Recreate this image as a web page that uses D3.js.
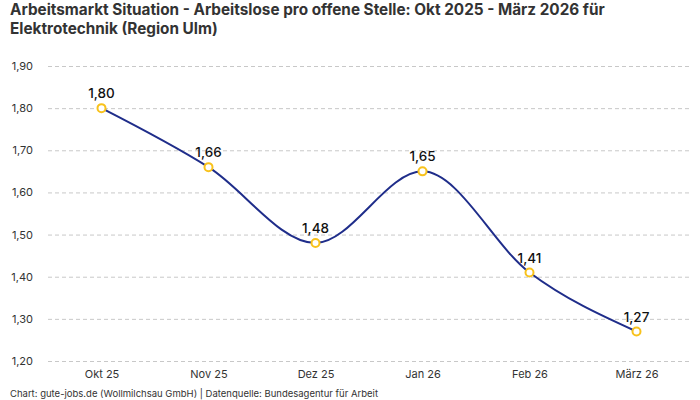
<!DOCTYPE html>
<html lang="de">
<head>
<meta charset="UTF-8">
<title>Arbeitsmarkt Situation</title>
<script src="https://d3js.org/d3.v7.min.js"></script>
<style>
  body { margin: 0; background: #fff; }
  svg text { font-family: "Inter", "Roboto", sans-serif; }
</style>
</head>
<body>
<div id="chart"></div>
<script>
const months = ["Okt 25", "Nov 25", "Dez 25", "Jan 26", "Feb 26", "März 26"];
const values = [1.80, 1.66, 1.48, 1.65, 1.41, 1.27];
const yTicks = [1.2, 1.3, 1.4, 1.5, 1.6, 1.7, 1.8, 1.9];

const width = 700, height = 400;
const margin = {top: 66, right: 10, bottom: 39, left: 48};
const fmt = v => v.toFixed(2).replace(".", ",");

const svg = d3.select("#chart").append("svg")
    .attr("width", width)
    .attr("height", height);

const x = d3.scalePoint()
    .domain(months)
    .range([margin.left, width - margin.right])
    .padding(0.5);

const y = d3.scaleLinear()
    .domain([1.2, 1.9])
    .range([height - margin.bottom, margin.top]);

// title
svg.append("text")
    .attr("x", 10).attr("y", 15)
    .attr("font-size", 15.3).attr("font-weight", "bold").attr("fill", "#333")
    .text("Arbeitsmarkt Situation - Arbeitslose pro offene Stelle: Okt 2025 - März 2026 für");
svg.append("text")
    .attr("x", 10).attr("y", 34)
    .attr("font-size", 15.3).attr("font-weight", "bold").attr("fill", "#333")
    .text("Elektrotechnik (Region Ulm)");

// grid + y labels
const yAxis = svg.append("g")
    .attr("transform", `translate(${margin.left},0)`)
    .call(d3.axisLeft(y).tickValues(yTicks).tickFormat(fmt)
        .tickSize(-(width - margin.left - margin.right)).tickPadding(15));
yAxis.select(".domain").remove();
yAxis.selectAll(".tick line")
    .attr("stroke", "#c8c8c8").attr("stroke-dasharray", "4,3");
yAxis.selectAll(".tick text")
    .attr("font-size", 11).attr("fill", "#333");

// x labels
const xAxis = svg.append("g")
    .attr("transform", `translate(0,${height - margin.bottom})`)
    .call(d3.axisBottom(x).tickSize(0).tickPadding(9));
xAxis.select(".domain").remove();
xAxis.selectAll(".tick text")
    .attr("font-size", 11).attr("fill", "#333");

// line
const line = d3.line()
    .x((d, i) => x(months[i]))
    .y(d => y(d))
    .curve(d3.curveMonotoneX);

svg.append("path")
    .datum(values)
    .attr("d", line)
    .attr("fill", "none")
    .attr("stroke", "#1f2d8a")
    .attr("stroke-width", 2);

svg.selectAll(".pt")
    .data(values)
    .enter().append("circle")
    .attr("class", "pt")
    .attr("cx", (d, i) => x(months[i]))
    .attr("cy", d => y(d))
    .attr("r", 4)
    .attr("fill", "#fff")
    .attr("stroke", "#f8c21c")
    .attr("stroke-width", 2);

svg.selectAll(".lbl")
    .data(values)
    .enter().append("text")
    .attr("class", "lbl")
    .attr("x", (d, i) => x(months[i]))
    .attr("y", d => y(d) - 10)
    .attr("text-anchor", "middle")
    .attr("font-size", 13.5)
    .attr("font-weight", 500)
    .attr("fill", "#111")
    .text(fmt);

// footer
svg.append("text")
    .attr("x", 10).attr("y", 397)
    .attr("font-size", 9.5).attr("fill", "#333")
    .text("Chart: gute-jobs.de (Wollmilchsau GmbH) | Datenquelle: Bundesagentur für Arbeit");
</script>
</body>
</html>
